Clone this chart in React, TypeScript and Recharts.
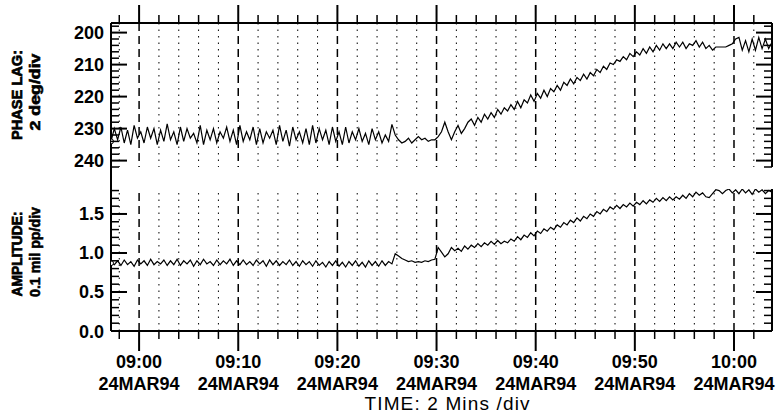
import { LineChart, Line, XAxis, YAxis, ReferenceLine } from 'recharts';

// readings every 20 s from 08:57:10 to 10:03:50, time in minutes after 09:00
const START_MIN = -17 / 6;
const END_MIN = 63 + 5 / 6;
const STEP_MIN = 1 / 3;

const phaseLag = [
  234, 230, 233.5, 229.5, 234.5, 230.5, 235, 229, 233, 231,
  234.5, 229.5, 233, 230, 235, 230.5, 234, 228.5, 233.5, 231,
  235, 229.5, 234, 230, 233, 231.5, 234.5, 229, 235, 230.5,
  233.5, 230, 234.5, 231, 233, 229.5, 234, 230.5, 235, 229,
  234, 231, 233.5, 229.5, 235, 230, 234.5, 231, 233, 230.5,
  235, 229, 234, 230.5, 235.5, 229.5, 233.5, 231, 234.5, 230,
  235, 229, 234.5, 230, 233.5, 230.5, 235, 229.5, 234, 231,
  235, 229.5, 234.5, 231, 233.5, 230, 234, 231.5, 235, 230,
  233.5, 231, 234.5, 232, 234, 228.7, 232, 233.5, 234.5, 234,
  233, 234.5, 233.5, 232.5, 233.5, 233, 234, 233.5, 233.5, 232.5,
  231, 228, 231, 233.5, 231, 229, 231.5, 230, 228, 227,
  229, 226.5, 228, 225.5, 227, 225, 226.5, 224, 225.5, 223.5,
  224.5, 222.5, 224, 221.5, 223.5, 221, 222, 219.5, 221.5, 219,
  220.5, 218, 220, 217.5, 218.5, 216.5, 218, 215.5, 216.5, 214.5,
  216, 214, 215, 213, 214.5, 212.5, 213.5, 211.5, 212.5, 210.5,
  211.5, 209.5, 210, 208.5, 209, 207.5, 208.5, 206.5, 207.5, 206,
  207, 205, 206.5, 204.5, 206, 204, 205.5, 203.5, 205, 203.5,
  205, 203, 204.5, 203, 205, 203.5, 204, 202.5, 204.5, 203,
  205, 204, 205.5, 204.5, 204.5, 204.5, 204.5, 204, 203.5, 202,
  201.5, 205.5, 202.5, 206, 202, 205.5, 201.5, 205, 202, 205,
  203,
];

const amplitude = [
  0.87, 0.85, 0.9, 0.84, 0.91, 0.85, 0.89, 0.83, 0.91, 0.86,
  0.9, 0.84, 0.92, 0.85, 0.89, 0.86, 0.91, 0.84, 0.9, 0.85,
  0.92, 0.84, 0.9, 0.86, 0.91, 0.83, 0.9, 0.85, 0.92, 0.86,
  0.89, 0.84, 0.91, 0.85, 0.9, 0.86, 0.92, 0.84, 0.9, 0.85,
  0.91, 0.85, 0.89, 0.84, 0.91, 0.86, 0.9, 0.83, 0.91, 0.85,
  0.9, 0.84, 0.89, 0.85, 0.91, 0.84, 0.89, 0.83, 0.9, 0.85,
  0.89, 0.83, 0.9, 0.84, 0.88, 0.82, 0.89, 0.84, 0.9, 0.83,
  0.88, 0.82, 0.89, 0.84, 0.9, 0.83, 0.88, 0.82, 0.9, 0.84,
  0.89, 0.83, 0.9, 0.84, 0.89, 0.86, 0.99, 0.96, 0.93, 0.91,
  0.89, 0.9, 0.88, 0.89, 0.88, 0.9, 0.89, 0.91, 0.92, 1.07,
  1.01, 0.95, 0.99, 1.07, 1.03, 1.06, 1.02, 1.09, 1.05, 1.1,
  1.07, 1.12, 1.08, 1.13, 1.1, 1.15, 1.11, 1.16, 1.12, 1.15,
  1.13, 1.18, 1.15, 1.21, 1.17, 1.23, 1.2, 1.26, 1.22, 1.28,
  1.25, 1.31, 1.28, 1.33, 1.3, 1.36, 1.33, 1.39, 1.36, 1.42,
  1.39, 1.45, 1.41, 1.47, 1.44, 1.5, 1.47, 1.53, 1.5, 1.56,
  1.53, 1.59, 1.56, 1.61, 1.57, 1.62, 1.59, 1.64, 1.6, 1.65,
  1.62, 1.67, 1.63, 1.68, 1.65, 1.7, 1.66, 1.71, 1.67, 1.72,
  1.68, 1.72, 1.69, 1.74, 1.7, 1.76, 1.72, 1.78, 1.74, 1.77,
  1.72, 1.71, 1.76, 1.81, 1.8, 1.76, 1.8, 1.82, 1.77, 1.81,
  1.76, 1.82, 1.77, 1.81, 1.75, 1.82, 1.78, 1.81, 1.76, 1.8,
  1.78,
];

// 2 minutes per division
const timeTicks = [
  -2, 0, 2, 4, 6, 8, 10, 12, 14, 16, 18, 20, 22, 24, 26, 28, 30, 32,
  34, 36, 38, 40, 42, 44, 46, 48, 50, 52, 54, 56, 58, 60, 62,
];
const majorMinutes = [0, 10, 20, 30, 40, 50, 60];
const timeLabels = ['09:00', '09:10', '09:20', '09:30', '09:40', '09:50', '10:00'];
const dateLabel = '24MAR94';

// 2 deg per division
const phaseTicks = [
  198, 200, 202, 204, 206, 208, 210, 212, 214, 216, 218, 220, 222, 224,
  226, 228, 230, 232, 234, 236, 238, 240, 242,
];
const phaseLabelled = [200, 210, 220, 230, 240];

// 0.1 mil pp per division
const ampTicks = [
  0, 0.1, 0.2, 0.3, 0.4, 0.5, 0.6, 0.7, 0.8, 0.9, 1.0, 1.1, 1.2, 1.3,
  1.4, 1.5, 1.6, 1.7, 1.8,
];
const ampLabelled = [0, 0.5, 1.0, 1.5];

const rows = phaseLag.map((p, i) => ({
  t: START_MIN + i * STEP_MIN,
  phase: p,
  amp: amplitude[i],
}));

const FONT = '"Liberation Sans", Arial, Helvetica, sans-serif';
const W = 779;
const frame = { stroke: '#000', strokeWidth: 2 };

const isLabelled = (list: number[], v: number) => list.some((m) => Math.abs(m - v) < 1e-6);

const makeYTick =
  (labelled: number[], side: 'left' | 'right', fmt: (v: number) => string) =>
  (props: any) => {
    const { x, y, payload } = props;
    const v = payload.value;
    const major = isLabelled(labelled, v);
    const len = major ? 16 : 8;
    const dir = side === 'left' ? 1 : -1;
    return (
      <g>
        <line x1={x} x2={x + dir * len} y1={y} y2={y} stroke="#000" strokeWidth={major ? 2 : 1.5} />
        {major && side === 'left' && (
          <text
            x={x - 7}
            y={y}
            dy={6.5}
            textAnchor="end"
            fontFamily={FONT}
            fontWeight="bold"
            fontSize={18}
            fill="#000"
          >
            {fmt(v)}
          </text>
        )}
      </g>
    );
  };

const TopTimeTick = (props: any) => {
  const { x, y, payload } = props;
  const major = majorMinutes.includes(payload.value);
  return (
    <line x1={x} x2={x} y1={y} y2={y - (major ? 18 : 8)} stroke="#000" strokeWidth={major ? 2 : 1.5} />
  );
};

const BottomTimeTick = (props: any) => {
  const { x, y, payload } = props;
  const idx = majorMinutes.indexOf(payload.value);
  const major = idx >= 0;
  return (
    <g>
      <line x1={x} x2={x} y1={y} y2={y + (major ? 20 : 8)} stroke="#000" strokeWidth={major ? 2 : 1.5} />
      {major && (
        <text x={x} y={y} textAnchor="middle" fontFamily={FONT} fontWeight="bold" fontSize={18} fill="#000">
          <tspan x={x} dy={37}>{timeLabels[idx]}</tspan>
          <tspan x={x} dy={22}>{dateLabel}</tspan>
        </text>
      )}
    </g>
  );
};

const StartDot = (props: any) => {
  const { cx, cy, index } = props;
  if (index !== 0) return <g key={`d${index}`} />;
  return <circle key="start" cx={cx} cy={cy} r={2.5} fill="#fff" stroke="#000" strokeWidth={1} />;
};

const gridLines = (id: string) =>
  timeTicks.map((m) => {
    const major = majorMinutes.includes(m);
    return (
      <ReferenceLine
        key={`${id}${m}`}
        x={m}
        stroke="#000"
        strokeWidth={major ? 1.5 : 1}
        strokeDasharray={major ? '8 5' : '1.5 5'}
      />
    );
  });

function PhasePanel() {
  return (
    <LineChart width={W} height={170} data={rows} margin={{ top: 0, right: 0, bottom: 3, left: 61 }}>
      <XAxis
        dataKey="t"
        type="number"
        orientation="top"
        domain={[START_MIN, END_MIN]}
        allowDataOverflow
        ticks={timeTicks}
        interval={0}
        height={23}
        tickSize={0}
        tickMargin={0}
        tickLine={false}
        axisLine={frame}
        tick={TopTimeTick}
      />
      <XAxis
        xAxisId="edge"
        dataKey="t"
        type="number"
        orientation="bottom"
        domain={[START_MIN, END_MIN]}
        height={0}
        tick={false}
        tickLine={false}
        axisLine={frame}
      />
      <YAxis
        domain={[197, 242]}
        reversed
        allowDataOverflow
        ticks={phaseTicks}
        interval={0}
        width={50}
        tickSize={0}
        tickMargin={0}
        tickLine={false}
        axisLine={frame}
        tick={makeYTick(phaseLabelled, 'left', (v) => String(v))}
      />
      <YAxis
        yAxisId="right"
        orientation="right"
        domain={[197, 242]}
        reversed
        allowDataOverflow
        ticks={phaseTicks}
        interval={0}
        width={7}
        tickSize={0}
        tickMargin={0}
        tickLine={false}
        axisLine={frame}
        tick={makeYTick(phaseLabelled, 'right', (v) => String(v))}
      />
      {gridLines('p')}
      <Line
        type="linear"
        dataKey="phase"
        stroke="#000"
        strokeWidth={1.2}
        dot={StartDot}
        activeDot={false}
        isAnimationActive={false}
      />
    </LineChart>
  );
}

function AmplitudePanel() {
  return (
    <LineChart width={W} height={238} data={rows} margin={{ top: 9, right: 0, bottom: 0, left: 61 }}>
      <XAxis
        xAxisId="edge"
        dataKey="t"
        type="number"
        orientation="top"
        domain={[START_MIN, END_MIN]}
        height={0}
        tick={false}
        tickLine={false}
        axisLine={frame}
      />
      <XAxis
        dataKey="t"
        type="number"
        orientation="bottom"
        domain={[START_MIN, END_MIN]}
        allowDataOverflow
        ticks={timeTicks}
        interval={0}
        height={87}
        tickSize={0}
        tickMargin={0}
        tickLine={false}
        axisLine={frame}
        tick={BottomTimeTick}
      />
      <YAxis
        domain={[0, 1.82]}
        allowDataOverflow
        ticks={ampTicks}
        interval={0}
        width={50}
        tickSize={0}
        tickMargin={0}
        tickLine={false}
        axisLine={frame}
        tick={makeYTick(ampLabelled, 'left', (v) => v.toFixed(1))}
      />
      <YAxis
        yAxisId="right"
        orientation="right"
        domain={[0, 1.82]}
        allowDataOverflow
        ticks={ampTicks}
        interval={0}
        width={7}
        tickSize={0}
        tickMargin={0}
        tickLine={false}
        axisLine={frame}
        tick={makeYTick(ampLabelled, 'right', (v) => v.toFixed(1))}
      />
      {gridLines('a')}
      <Line
        type="linear"
        dataKey="amp"
        stroke="#000"
        strokeWidth={1.2}
        dot={StartDot}
        activeDot={false}
        isAnimationActive={false}
      />
    </LineChart>
  );
}

export default function App() {
  return (
    <div style={{ position: 'absolute', left: 0, top: 0, width: W, height: 418, background: '#fff' }}>
      <div style={{ position: 'absolute', left: 0, top: 0 }}>
        <PhasePanel />
      </div>
      <div style={{ position: 'absolute', left: 0, top: 180 }}>
        <AmplitudePanel />
      </div>
      {/* left frame edge runs on through the gap between the panels */}
      <div style={{ position: 'absolute', left: 110, top: 166, width: 2, height: 24, background: '#000' }} />
      <svg
        width={W}
        height={418}
        style={{ position: 'absolute', left: 0, top: 0, pointerEvents: 'none' }}
        fontFamily={FONT}
        fontWeight="bold"
        fill="#000"
      >
        <text transform="translate(22,95) rotate(-90)" textAnchor="middle" fontSize={15} textLength={90} lengthAdjust="spacingAndGlyphs" stroke="#000" strokeWidth={0.7}>
          PHASE LAG:
        </text>
        <text transform="translate(40,92) rotate(-90)" textAnchor="middle" fontSize={14} textLength={77} lengthAdjust="spacingAndGlyphs" stroke="#000" strokeWidth={0.6}>
          2 deg/div
        </text>
        <text transform="translate(22,254) rotate(-90)" textAnchor="middle" fontSize={15} textLength={85} lengthAdjust="spacingAndGlyphs" stroke="#000" strokeWidth={0.7}>
          AMPLITUDE:
        </text>
        <text transform="translate(40,252) rotate(-90)" textAnchor="middle" fontSize={14} textLength={90} lengthAdjust="spacingAndGlyphs" stroke="#000" strokeWidth={0.6}>
          0.1 mil pp/div
        </text>
        <text x={447} y={410} textAnchor="middle" fontSize={19} fontWeight="normal" textLength={165} lengthAdjust="spacing">
          TIME: 2 Mins /div
        </text>
      </svg>
    </div>
  );
}
